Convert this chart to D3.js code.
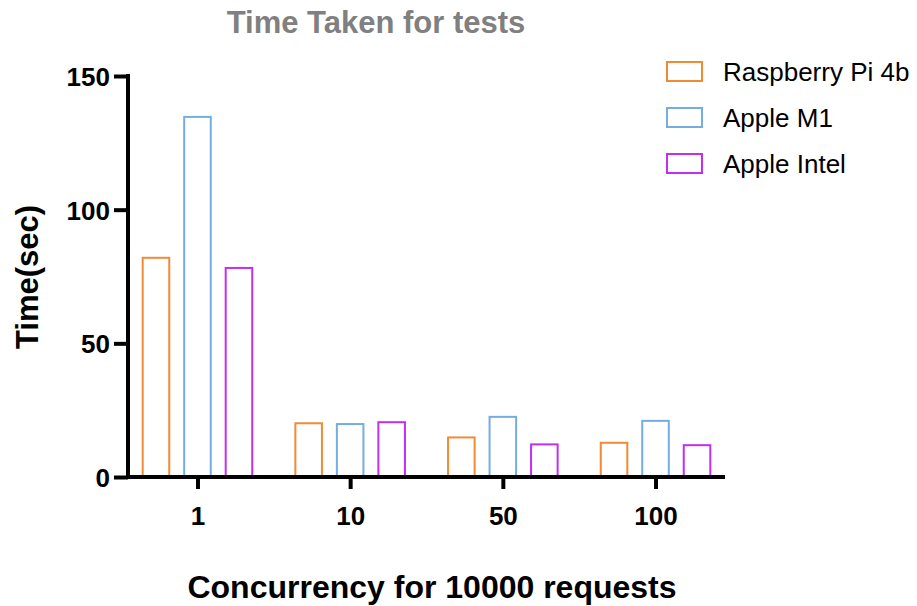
<!DOCTYPE html>
<html lang="en">
  <head>
    <meta charset="utf-8">
    <script src="https://d3js.org/d3.v7.min.js"></script>
    <title>Time Taken for tests</title>
    <style>
      body { margin: 0; background: #fff; }
      text { font-family: "Liberation Sans", Arial, sans-serif; }
    </style>
  </head>
  <body>
    <div id="chart"></div>
    <script type="text/javascript">
      // data
      var concurrency = ["1", "10", "50", "100"];
      var seriesNames = ["Raspberry Pi 4b", "Apple M1", "Apple Intel"];
      var raspberryPi = [82, 20.1, 14.8, 12.8];
      var appleM1 = [134.7, 19.8, 22.5, 21];
      var appleIntel = [78.2, 20.5, 12.2, 11.9];
      var yTicks = [0, 50, 100, 150];

      var colors = ["#f08a34", "#74ade0", "#c02ff2"];
      var values = [raspberryPi, appleM1, appleIntel];

      var svg = d3.select("#chart").append("svg")
          .attr("width", 917)
          .attr("height", 606);

      var x = d3.scalePoint().domain(concurrency).range([128, 725]).padding(0.455);
      var xInner = d3.scaleBand().domain(seriesNames).range([-62.25, 62.25])
          .paddingInner(0.36).paddingOuter(0.18);
      var y = d3.scaleLinear().domain([0, 150]).range([477, 76]);

      // bars
      seriesNames.forEach(function (name, i) {
        svg.append("g")
          .selectAll("rect")
          .data(values[i])
          .enter().append("rect")
            .attr("x", function (d, j) { return x(concurrency[j]) + xInner(name); })
            .attr("y", function (d) { return y(d); })
            .attr("width", xInner.bandwidth())
            .attr("height", function (d) { return y(0) - y(d); })
            .attr("fill", "none")
            .attr("stroke", colors[i])
            .attr("stroke-width", 2);
      });

      // y axis
      var yAxis = svg.append("g")
          .attr("transform", "translate(128,0)")
          .call(d3.axisLeft(y).tickValues(yTicks).tickSize(14).tickPadding(4));
      // x axis
      var xAxis = svg.append("g")
          .attr("transform", "translate(0,477)")
          .call(d3.axisBottom(x).tickSize(12).tickPadding(18));

      [yAxis, xAxis].forEach(function (a) {
        a.select(".domain").attr("stroke", "#000").attr("stroke-width", 4);
        a.selectAll(".tick line").attr("stroke", "#000").attr("stroke-width", 4);
        a.selectAll(".tick text")
          .attr("fill", "#000")
          .style("font-size", "26px")
          .style("font-weight", "bold");
      });
      xAxis.select(".domain").attr("d", "M126,0H725");
      yAxis.select(".domain").attr("d", "M0,479V74");
      yAxis.selectAll(".tick text").attr("dy", "0.36em");

      // title
      svg.append("text")
          .attr("x", 376)
          .attr("y", 33)
          .attr("text-anchor", "middle")
          .attr("fill", "#808080")
          .style("font-size", "31px")
          .style("font-weight", "bold")
          .text("Time Taken for tests");

      // axis titles
      svg.append("text")
          .attr("x", 432)
          .attr("y", 598)
          .attr("text-anchor", "middle")
          .style("font-size", "32px")
          .style("font-weight", "bold")
          .text("Concurrency for 10000 requests");

      svg.append("text")
          .attr("transform", "translate(38,277) rotate(-90)")
          .attr("text-anchor", "middle")
          .style("font-size", "31px")
          .style("font-weight", "bold")
          .text("Time(sec)");

      // legend
      var legend = svg.append("g").selectAll("g")
          .data(seriesNames)
          .enter().append("g")
            .attr("transform", function (d, i) { return "translate(667," + (62 + i * 46) + ")"; });
      legend.append("rect")
          .attr("width", 35)
          .attr("height", 19)
          .attr("fill", "none")
          .attr("stroke", function (d, i) { return colors[i]; })
          .attr("stroke-width", 2);
      legend.append("text")
          .attr("x", 56)
          .attr("y", 19)
          .style("font-size", "26px")
          .text(function (d) { return d; });
    </script>
  </body>
</html>
